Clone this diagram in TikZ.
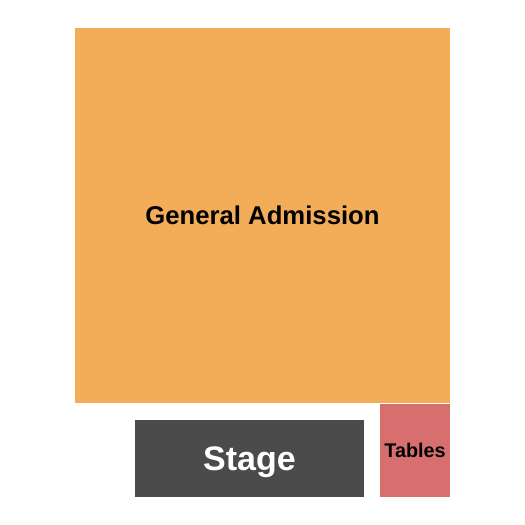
\documentclass[tikz,border=0pt]{standalone}
\usepackage{fontspec}
\setmainfont{Liberation Sans}
\definecolor{gacol}{HTML}{F3AD58}
\definecolor{stagecol}{HTML}{4B4B4B}
\definecolor{tablecol}{HTML}{D86F6F}
\begin{document}
\begin{tikzpicture}[x=1pt,y=-1pt,
  area/.style={rectangle,inner sep=0pt,outer sep=0pt,draw=none,text depth=0pt,align=center}]
\useasboundingbox (0,0) rectangle (525,525);
\node[area,fill=gacol,minimum width=375pt,minimum height=375pt,font=\bfseries\fontsize{25.7}{30}\selectfont,text=black] (ga) at (262.5,215.5) {General Admission};
\node[area,fill=stagecol,minimum width=229pt,minimum height=77pt,font=\bfseries\fontsize{34}{40}\selectfont,text=white] (stage) at (249.5,458.5) {Stage};
\node[area,fill=tablecol,minimum width=70pt,minimum height=93pt,font=\bfseries\fontsize{19.8}{22}\selectfont,text=black] (tables) at (415,450.5) {Tables};
\end{tikzpicture}
\end{document}
